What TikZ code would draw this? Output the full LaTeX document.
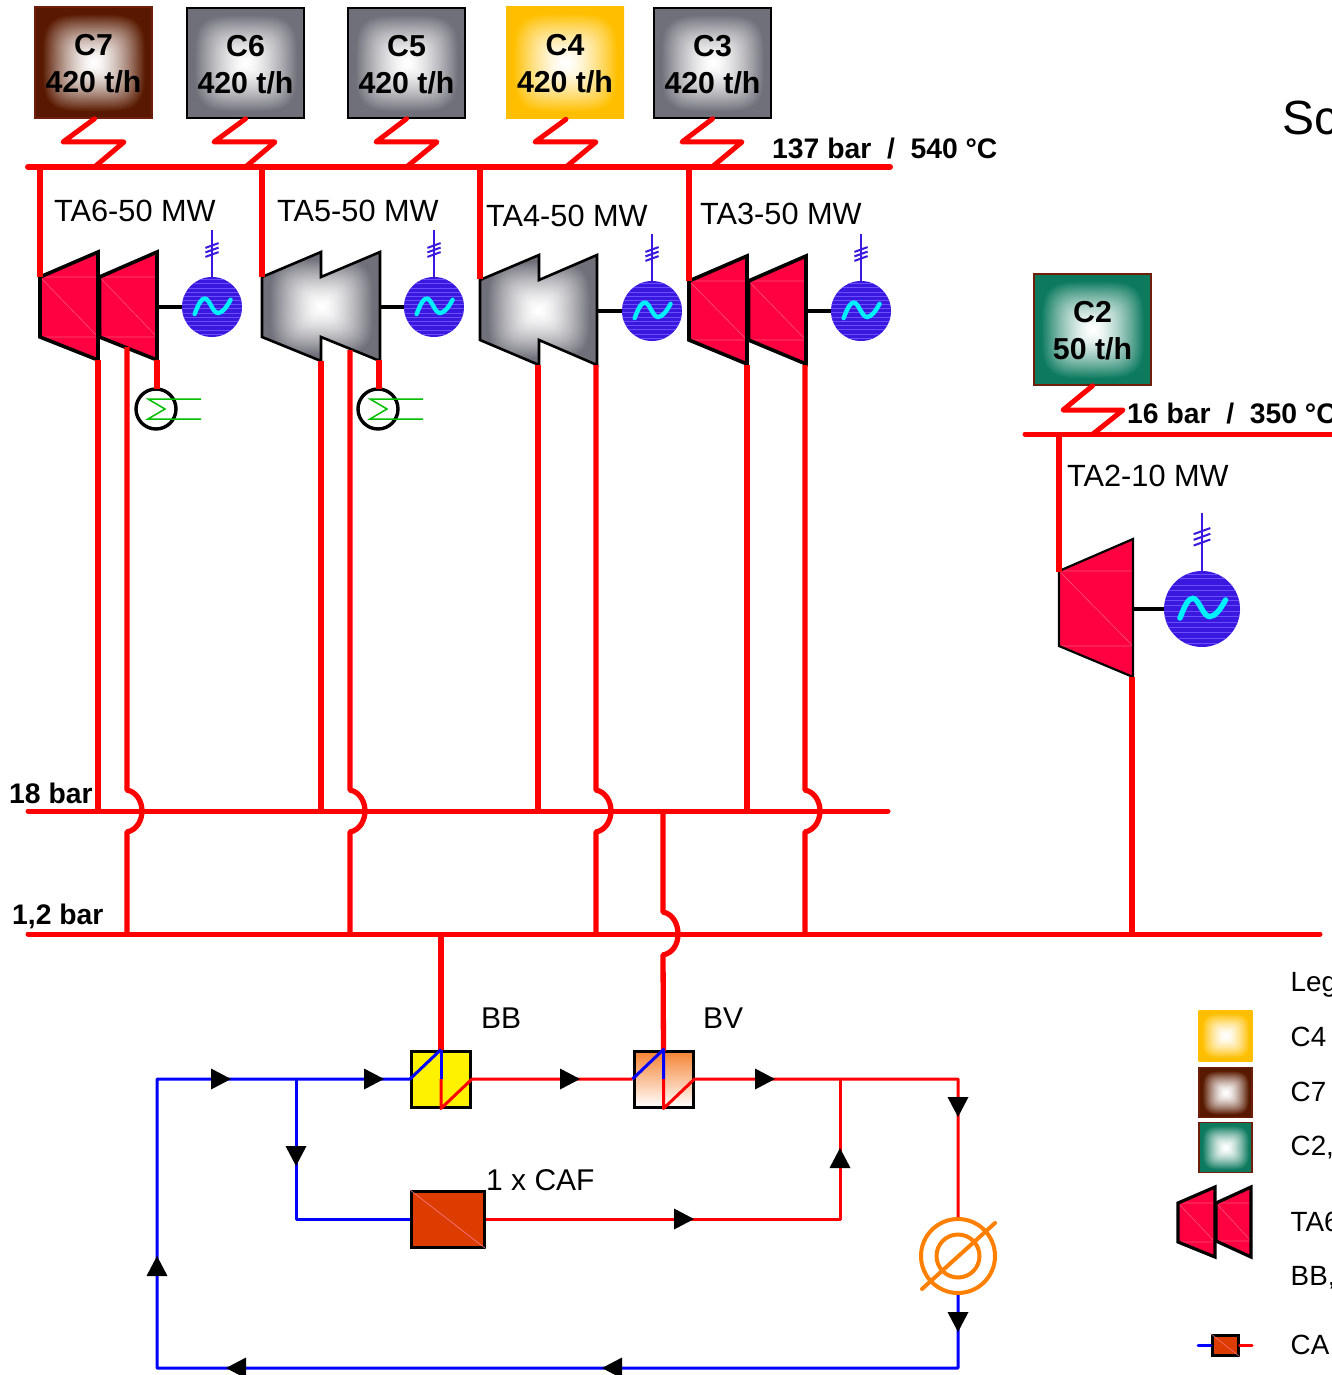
\documentclass[tikz,border=0pt]{standalone}
\usepackage{fontspec}
\setmainfont{Liberation Sans}
\newcommand{\mkboxshade}[4]{%
\pgfdeclarefunctionalshading{#1}{\pgfpoint{-50bp}{-50bp}}{\pgfpoint{50bp}{50bp}}{}{%
dup mul dup mul exch dup mul dup mul add sqrt sqrt 25 div 1.14 mul
dup 1 gt {pop 1} if
dup sqrt mul
dup #2 mul 1 exch sub exch
dup #3 mul 1 exch sub exch
#4 mul 1 exch sub
}}
\mkboxshade{brownbox}{0.65}{0.90}{1.00}
\mkboxshade{greybox}{0.56}{0.56}{0.52}
\mkboxshade{goldbox}{0.00}{0.25}{1.00}
\mkboxshade{greenbox}{0.95}{0.52}{0.63}
\definecolor{hpred}{RGB}{255,0,0}
\definecolor{turbred}{RGB}{255,0,64}
\definecolor{turbline}{RGB}{255,80,120}
\definecolor{genblue}{RGB}{58,24,224}
\definecolor{genlight}{RGB}{104,78,255}
\definecolor{wavecyan}{RGB}{0,240,255}
\definecolor{pipeblue}{RGB}{0,0,255}
\definecolor{brownedge}{RGB}{110,30,10}
\definecolor{cafred}{RGB}{221,60,0}
\definecolor{ringorange}{RGB}{255,128,0}
\definecolor{bvorange}{RGB}{245,130,50}
\definecolor{condgreen}{RGB}{0,190,0}
\newcommand{\lift}{\rule{0pt}{24pt}}
\tikzset{
  boiler/.style={rectangle,inner sep=0pt,shade,line width=1.6pt,align=center,
     font=\fontsize{30.3}{37}\selectfont\bfseries},
  swatch/.style={rectangle,inner sep=0pt,shade,line width=1.2pt},
  steam/.style={hpred,line width=6pt,line cap=round,line join=round},
  branch/.style={hpred,line width=5.5pt},
  zig/.style={hpred,line width=5pt,line cap=round,line join=round},
  hopline/.style={hpred,line width=5.3pt,line join=round},
  water/.style={pipeblue,line width=3pt,line join=round},
  hot/.style={hpred,line width=3pt,line join=round},
  shaft/.style={black,line width=3.2pt},
  gennode/.style={circle,inner sep=0pt,fill=genblue},
  boldlabel/.style={anchor=base west,inner sep=0pt,font=\fontsize{28.3}{28}\selectfont\bfseries},
  plainlabel/.style={anchor=base west,inner sep=0pt,font=\fontsize{30}{30}\selectfont},
  talabel/.style={anchor=base west,inner sep=0pt,font=\fontsize{30.7}{30}\selectfont},
  legendlabel/.style={anchor=base west,inner sep=0pt,font=\fontsize{27.8}{28}\selectfont},
  hxbox/.style={rectangle,inner sep=0pt,draw=black,line width=3pt},
  flowtip/.style={fill=black},
}
\newcommand{\tip}[3]{\begin{scope}[shift={(#1,#2)},rotate=#3]\fill[flowtip] (10,0)--(-10,-10.5)--(-10,10.5)--cycle;\end{scope}}
\newcommand{\redstage}[7]{%
  \fill[turbred] (#1,#3)--(#2,#4)--(#2,#5)--(#1,#6)--cycle;
  \draw[turbline,line width=.6pt] (#1,#3)--(#2,#3) (#1,#6)--(#2,#6) (#1,#3)--(#2,#6);
  \draw[black,line width=#7pt,line join=miter] (#1,#3)--(#2,#4)--(#2,#5)--(#1,#6)--cycle;}
\newcommand{\genset}[6]{%
  \node[gennode,minimum size=#4*2pt] (#1) at (#2,#3) {};
  \begin{scope}[shift={(#2,#3)},scale=#4]
    \clip (0,0) circle (1);
    \foreach \s in {-0.92,-0.8,-0.62,-0.5,-0.34,-0.22,-0.1,0.06,0.2,0.34,0.48,0.62,0.78,0.9}
      \draw[genlight,line width=.7pt] (-1,\s)--(1,\s);
  \end{scope}
  \begin{scope}[shift={(#2,#3)},scale=#4]
    \draw[wavecyan,line width=#5pt,line cap=round]
      (-.58,.24) .. controls (-.45,-.1) and (-.36,-.28) .. (-.24,-.28)
      .. controls (-.08,-.28) and (.02,.2) .. (.2,.2)
      .. controls (.34,.2) and (.48,.02) .. (.62,-.24);
    \draw[genblue,line width=2pt] (-.22,-1.97)--(.22,-2.13) (-.22,-1.82)--(.22,-1.98) (-.22,-1.67)--(.22,-1.83);
  \end{scope}
  \coordinate (#1top) at (#2,#6);
  \draw[genblue,line width=2pt] (#1top) -- (#1.north);}
\newcommand{\condenser}[3]{%
  \node[circle,inner sep=0pt,draw=black,line width=3.4pt,minimum size=40pt] (#1) at (#2,#3) {};
  \draw[condgreen,line width=1.5pt] (#2+45,#3-10)--(#2-8,#3-10)--(#2+9,#3)--(#2-8,#3+10)--(#2+45,#3+10);}
\newcommand{\hop}[2]{\draw[hopline] (#1) -- (#2,790) .. controls (#2+10,792) and (#2+15,802) .. (#2+15,811) .. controls (#2+15,820) and (#2+10,830) .. (#2,832) -- (#2,934);}
\begin{document}
\begin{tikzpicture}[x=1pt,y=-1pt]
\useasboundingbox (0,0) rectangle (1332,1375);
\fill[white] (0,0) rectangle (1332,1375);
\clip (0,0) rectangle (1332,1375);

% boilers
\node[boiler,shading=brownbox,draw=brownedge,minimum width=117pt,minimum height=111pt] (C7) at (93.5,62.5) {\lift C7\\420 t/h};
\node[boiler,shading=greybox,draw=black,minimum width=117pt,minimum height=110pt] (C6) at (245.5,63) {\lift C6\\420 t/h};
\node[boiler,shading=greybox,draw=black,minimum width=117pt,minimum height=110pt] (C5) at (406.5,63) {\lift C5\\420 t/h};
\node[boiler,shading=goldbox,minimum width=118pt,minimum height=112pt] (C4) at (565,62.5) {\lift C4\\420 t/h};
\node[boiler,shading=greybox,draw=black,minimum width=117pt,minimum height=110pt] (C3) at (712.5,63) {\lift C3\\420 t/h};
\node[boiler,shading=greenbox,draw=brownedge,minimum width=117pt,minimum height=111pt] (C2) at (1092.5,329.5) {\lift C2\\50 t/h};

% turbines
\redstage{40}{98}{277}{252}{360}{337}{3.6}
\redstage{99.5}{157}{277}{252}{360}{337}{3.6}
\shade[shading=greybox,draw=black,line width=2.6pt,line join=miter] (262,277)--(321,252)--(321,277)--(380,252)--(380,361)--(321,337)--(321,361)--(262,337)--cycle;
\shade[shading=greybox,draw=black,line width=2.6pt,line join=miter] (480,280)--(539,255)--(539,280)--(597,255)--(597,365)--(539,340)--(539,365)--(480,340)--cycle;
\redstage{689}{747}{281}{256}{364}{340}{3.6}
\redstage{748.5}{806}{281}{256}{364}{340}{3.6}
\redstage{1059}{1133}{571}{539}{677}{646}{2.2}

% generators
\genset{G6}{212}{307}{30}{4.4}{230}
\genset{G5}{434}{307}{30}{4.4}{230}
\genset{G4}{652}{311}{30}{4.4}{234}
\genset{G3}{861}{311}{30}{4.4}{234}
\genset{G2}{1202}{609}{38}{5.4}{513}
\coordinate (T6s) at (157,307);
\coordinate (T5s) at (380,307);
\coordinate (T4s) at (597,311);
\coordinate (T3s) at (806,311);
\coordinate (T2s) at (1133,609);
\draw[shaft] (T6s)--(G6);
\draw[shaft] (T5s)--(G5);
\draw[shaft] (T4s)--(G4);
\draw[shaft] (T3s)--(G3);
\draw[shaft] (T2s)--(G2);

% condensers
\condenser{K6}{156}{409}
\condenser{K5}{378}{409}
\coordinate (K6in) at (157,360);
\coordinate (K5in) at (379,360);
\draw[branch] (K6in)--(157,389);
\draw[branch] (K5in)--(379,389);

% buses
\coordinate (B137a) at (28,167);
\coordinate (B137b) at (890,167);
\coordinate (B18a) at (28,811);
\coordinate (B18b) at (888,811);
\coordinate (B1a) at (28,934);
\coordinate (B1b) at (1320,934);
\coordinate (B16a) at (1025,434);
\coordinate (B16b) at (1340,434);
\draw[steam] (B137a)--(B137b);
\draw[hpred,line width=5pt,line cap=round] (B18a)--(B18b);
\draw[hpred,line width=5pt,line cap=round] (B1a)--(B1b);
\draw[hpred,line width=5pt,line cap=round] (B16a)--(B16b);

% steam feeds
\foreach \x/\yb in {40/277,262/277,480/279,689/281}
  \draw[branch] (\x,167)--(\x,\yb);
\draw[branch] (1059,434)--(1059,572);

% boiler to bus zigzags
\draw[zig] (C7.south)++(1,0) --(63,142)--(124,142)--(94.5,167);
\draw[zig] (C6.south) --(214,142)--(275,142)--(245.5,167);
\draw[zig] (C5.south) --(376,142)--(437,142)--(406.5,167);
\draw[zig] (C4.south)++(1,0) --(535,142)--(596,142)--(566,167);
\draw[zig] (C3.south) --(682,142)--(742,142)--(712,167);
\draw[zig] (C2.south) --(1063,410)--(1123,410)--(1093,434);

% turbine outlets
\coordinate (O6a) at (98,360);
\coordinate (O6b) at (127,347);
\coordinate (O5a) at (321,361);
\coordinate (O5b) at (350,350);
\coordinate (O4a) at (538,365);
\coordinate (O4b) at (596,365);
\coordinate (O3a) at (747,365);
\coordinate (O3b) at (805,365);
\coordinate (O2) at (1132,677);
\draw[hopline] (O6a)--(98,811);
\draw[hopline] (O5a)--(321,811);
\draw[hopline] (O4a)--(538,811);
\draw[hopline] (O3a)--(747,811);
\hop{O6b}{127}
\hop{O5b}{350}
\hop{O4b}{596}
\hop{O3b}{805}
\draw[hopline] (O2)--(1132,934);

% heat exchangers
\node[hxbox,fill=yellow,minimum width=59pt,minimum height=56pt] (BB) at (441,1079) {};
\node[hxbox,top color=bvorange,bottom color=white,minimum width=59pt,minimum height=56pt] (BV) at (663.5,1079) {};
\node[hxbox,fill=cafred,minimum width=73pt,minimum height=56pt] (CAF) at (447.5,1219) {};
\draw[turbline!70!white,line width=.5pt] (CAF.north west)--(CAF.south east);
\draw[hpred,line width=5.3pt] (441,934)--(BB.north);
\draw[hopline] (663,811)--(663,912) .. controls (673,914) and (678,924) .. (678,934) .. controls (678,944) and (673,953) .. (663,955) -- (663.5,1051);

% cycle pipes
\node[circle,inner sep=0pt,draw=ringorange,line width=4pt,minimum size=74pt] (FW) at (958,1256) {};
\node[circle,inner sep=0pt,draw=ringorange,line width=4pt,minimum size=43pt] (FWi) at (958,1256) {};
\coordinate (S1) at (922,1289);
\coordinate (S2) at (995,1223);
\draw[ringorange,line width=4pt,line cap=round] (S1)--(S2);
\coordinate (J1) at (296,1079);
\coordinate (J2) at (840,1079);
\draw[water] (FW.south)--(958,1368)--(157,1368)--(157,1079)--(BB.west)--(BB.north);
\draw[water] (BB.north)--(BB.center);
\draw[hot] (BB.center)--(BB.south)--(BB.east)--(BV.west);
\draw[water] (BV.west)--(BV.north)--(BV.center);
\draw[hot] (BV.center)--(BV.south)--(BV.east)--(958,1079)--(FW.north);
\draw[water] (J1)--(296,1219)--(CAF.west);
\draw[hot] (CAF.east)--(840,1219)--(J2);

% flow arrows
\tip{221}{1079}{0}
\tip{374}{1079}{0}
\tip{570}{1079}{0}
\tip{765}{1079}{0}
\tip{684}{1219}{0}
\tip{296}{1156}{-90}
\tip{958}{1107}{-90}
\tip{958}{1322}{-90}
\tip{840}{1158}{90}
\tip{157}{1266}{90}
\tip{236}{1368}{180}
\tip{612}{1368}{180}

% labels
\node[boldlabel] (L137) at (772,159) {137 bar\ \ /\ \ 540 °C};
\node[boldlabel] (L16) at (1127,423) {16 bar\ \ /\ \ 350 °C};
\node[boldlabel] (L18) at (9,803) {18 bar};
\node[boldlabel] (L12) at (12,924) {1,2 bar};
\node[talabel] (LT6) at (54,221) {TA6-50 MW};
\node[talabel] (LT5) at (277,221) {TA5-50 MW};
\node[talabel] (LT4) at (486,226) {TA4-50 MW};
\node[talabel] (LT3) at (700,224) {TA3-50 MW};
\node[talabel] (LT2) at (1067,486) {TA2-10 MW};
\node[plainlabel] (LBB) at (481,1028) {BB};
\node[plainlabel] (LBV) at (703,1028) {BV};
\node[plainlabel] (LCAF) at (486,1190.5) {1 x CAF};
\node[anchor=base west,inner sep=0pt,font=\fontsize{48}{48}\selectfont] (Title) at (1282,135) {Sc};

% legend
\node[swatch,shading=goldbox,minimum width=54pt,minimum height=51pt] (K4) at (1225.5,1035.5) {};
\node[swatch,shading=brownbox,draw=brownedge,minimum width=53pt,minimum height=50pt] (K7) at (1225.5,1092.5) {};
\node[swatch,shading=greenbox,draw=brownedge,minimum width=53pt,minimum height=50pt] (K2) at (1225.5,1147.5) {};
\redstage{1178}{1215}{1203}{1187}{1257}{1242}{3.2}
\redstage{1216}{1251}{1203}{1187}{1257}{1241}{3.2}
\node[hxbox,fill=cafred,minimum width=26pt,minimum height=20pt] (KC) at (1225,1345) {};
\draw[turbline!70!white,line width=.4pt] (KC.north west)--(KC.south east);
\coordinate (KCa) at (1198,1345);
\coordinate (KCb) at (1252,1345);
\draw[water,line cap=round] (KCa)--(KC.west);
\draw[hot,line cap=round] (KC.east)--(KCb);
\node[legendlabel] (K0) at (1290.5,991.5) {Leg};
\node[legendlabel] (K1) at (1290.5,1046) {C4};
\node[legendlabel] (K3) at (1290.5,1101) {C7};
\node[legendlabel] (K5) at (1290.5,1155.5) {C2,};
\node[legendlabel] (K6t) at (1290.5,1231) {TA6};
\node[legendlabel] (K8) at (1290.5,1285.5) {BB,};
\node[legendlabel] (K9) at (1290.5,1354.5) {CA};
\end{tikzpicture}
\end{document}
